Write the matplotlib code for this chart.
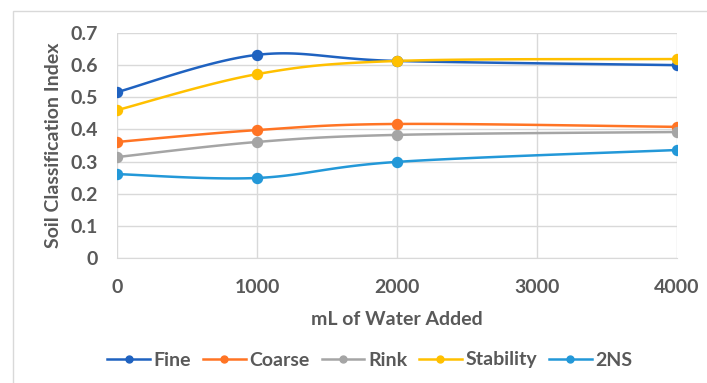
import numpy as np
import matplotlib.pyplot as plt
from matplotlib.lines import Line2D

plt.rcParams['font.family'] = ['Lato', 'DejaVu Sans']

water_ml = [0, 1000, 2000, 4000]
fine = [0.516, 0.632, 0.613, 0.600]
coarse = [0.361, 0.398, 0.417, 0.408]
rink = [0.314, 0.361, 0.383, 0.392]
stability = [0.460, 0.572, 0.613, 0.619]
ns2 = [0.261, 0.249, 0.299, 0.336]

series = [
    ("Fine", fine, "#1f62c0"),
    ("Coarse", coarse, "#ff7424"),
    ("Rink", rink, "#a5a5a5"),
    ("Stability", stability, "#ffc000"),
    ("2NS", ns2, "#2398d8"),
]

TEXT = "#595959"
GRID = "#d9d9d9"
FS = 14


def smooth_curve(xs, ys, n=40):
    """Spreadsheet-style smoothed line: bezier segments with catmull-rom handles."""
    x = np.asarray(xs, float)
    y = np.asarray(ys, float)
    px = np.concatenate([[x[0]], x, [x[-1]]])
    py = np.concatenate([[y[0]], y, [y[-1]]])
    t = np.linspace(0, 1, n)[:, None]
    out_x, out_y = [], []
    for i in range(len(x) - 1):
        p0 = np.array([x[i], y[i]])
        p3 = np.array([x[i + 1], y[i + 1]])
        c1 = p0 + (np.array([px[i + 2], py[i + 2]]) - np.array([px[i], py[i]])) / 6
        c2 = p3 - (np.array([px[i + 3], py[i + 3]]) - np.array([px[i + 1], py[i + 1]])) / 6
        pts = ((1 - t) ** 3) * p0 + 3 * ((1 - t) ** 2) * t * c1 + 3 * (1 - t) * t ** 2 * c2 + t ** 3 * p3
        out_x.append(pts[:, 0])
        out_y.append(pts[:, 1])
    return np.concatenate(out_x), np.concatenate(out_y)


fig = plt.figure(figsize=(7.07, 3.83), dpi=100)
ax = fig.add_axes([117 / 707, 1 - 258 / 383, 560 / 707, 225 / 383])

# outer chart border (only left/top edges fall inside the image)
fig.add_artist(plt.Rectangle((13 / 707, -0.1), 1.2, (383 - 11) / 383 + 0.1,
                             transform=fig.transFigure, fill=False,
                             edgecolor=GRID, linewidth=1.0))

handles = []
for name, vals, color in series:
    sx, sy = smooth_curve(water_ml, vals)
    ax.plot(sx, sy, color=color, linewidth=1.8, zorder=3)
    ax.plot(water_ml, vals, 'o', color=color, markersize=7.2, zorder=4)
    handles.append(Line2D([0], [0], color=color, linewidth=1.8, marker='o',
                          markersize=5, label=name))

ax.set_xlim(0, 4000)
ax.set_ylim(0, 0.7)
ax.set_xticks([0, 1000, 2000, 3000, 4000])
ax.set_yticks(np.arange(0, 0.71, 0.1))
ax.set_yticklabels(["0", "0.1", "0.2", "0.3", "0.4", "0.5", "0.6", "0.7"])
ax.grid(True, color=GRID, linewidth=1.0)
ax.set_axisbelow(True)
for side in ["top", "right", "left"]:
    ax.spines[side].set_visible(False)
ax.spines["bottom"].set_color(GRID)
ax.tick_params(length=0, labelsize=FS, labelcolor=TEXT)
ax.tick_params(axis='x', pad=15)
ax.tick_params(axis='y', pad=14)
for lbl in ax.get_xticklabels() + ax.get_yticklabels():
    lbl.set_fontweight('bold')

ax.set_xlabel("mL of Water Added", fontsize=FS, fontweight='bold', color=TEXT, labelpad=11)
ax.set_ylabel("Soil Classification Index", fontsize=FS, fontweight='bold', color=TEXT, labelpad=6)

leg = fig.legend(handles=handles, loc='center', bbox_to_anchor=(370 / 707, 1 - 360 / 383),
                 ncol=5, frameon=False, handlelength=2.2, columnspacing=0.6,
                 handletextpad=0.2, prop={'weight': 'bold', 'size': FS})
for txt in leg.get_texts():
    txt.set_color(TEXT)

fig.savefig("out.png", dpi=100)
